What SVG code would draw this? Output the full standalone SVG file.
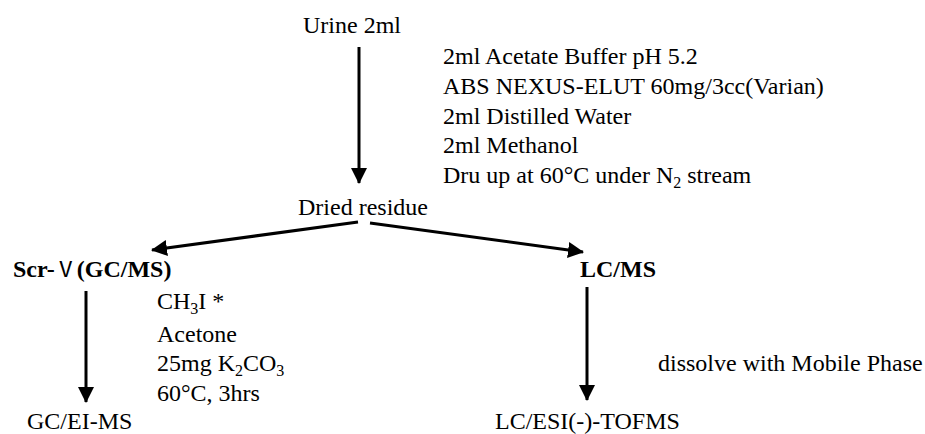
<svg xmlns="http://www.w3.org/2000/svg" width="925" height="434" viewBox="0 0 925 434">
<defs>
<marker id="ah" markerWidth="16" markerHeight="16" viewBox="0 0 16 16" refX="15" refY="8" orient="auto" markerUnits="userSpaceOnUse">
<path d="M0,0 L16,8 L0,16 Z" fill="#000"/>
</marker>
<style>
text{font-family:"Liberation Serif","Times New Roman",serif;font-size:24px;fill:#000}
.b{font-weight:bold}
.sub{font-size:16px}
.rn{font-family:"Noto Sans CJK JP","DejaVu Serif",sans-serif;font-weight:normal;font-size:22px}
.c{stroke:#000;stroke-width:3;fill:none}
</style>
</defs>
<rect width="925" height="434" fill="#fff"/>
<g id="connectors">
<line class="c" x1="359" y1="47" x2="359" y2="183" marker-end="url(#ah)"/>
<line class="c" x1="358" y1="222" x2="152" y2="250" marker-end="url(#ah)"/>
<line class="c" x1="370" y1="223" x2="583" y2="252" marker-end="url(#ah)"/>
<line class="c" x1="86" y1="291" x2="86" y2="402" marker-end="url(#ah)"/>
<line class="c" x1="587" y1="287" x2="587" y2="400" marker-end="url(#ah)"/>
</g>
<g id="urine"><text x="303" y="33">Urine 2ml</text></g>
<g id="spe-steps">
<text x="443" y="64">2ml Acetate Buffer pH 5.2</text>
<text x="443" y="94">ABS NEXUS-ELUT 60mg/3cc(Varian)</text>
<text x="443" y="124">2ml Distilled Water</text>
<text x="443" y="153">2ml Methanol</text>
<text x="443" y="183">Dru up at 60°C under N<tspan class="sub" dy="5">2</tspan><tspan dy="-5"> stream</tspan></text>
</g>
<g id="dried"><text x="298" y="215">Dried residue</text></g>
<g id="scr"><text class="b" x="13" y="277">Scr-<tspan class="rn">Ⅴ</tspan>(GC/MS)</text></g>
<g id="lcms"><text class="b" x="580" y="277">LC/MS</text></g>
<g id="deriv">
<text x="157" y="309">CH<tspan class="sub" dy="5">3</tspan><tspan dy="-5">I *</tspan></text>
<text x="157" y="342">Acetone</text>
<text x="157" y="371">25mg K<tspan class="sub" dy="5">2</tspan><tspan dy="-5">CO</tspan><tspan class="sub" dy="5">3</tspan></text>
<text x="157" y="401">60°C, 3hrs</text>
</g>
<g id="dissolve"><text x="658" y="371">dissolve with Mobile Phase</text></g>
<g id="gcei"><text x="27" y="429">GC/EI-MS</text></g>
<g id="lcesi"><text x="495" y="429">LC/ESI(-)-TOFMS</text></g>
</svg>
